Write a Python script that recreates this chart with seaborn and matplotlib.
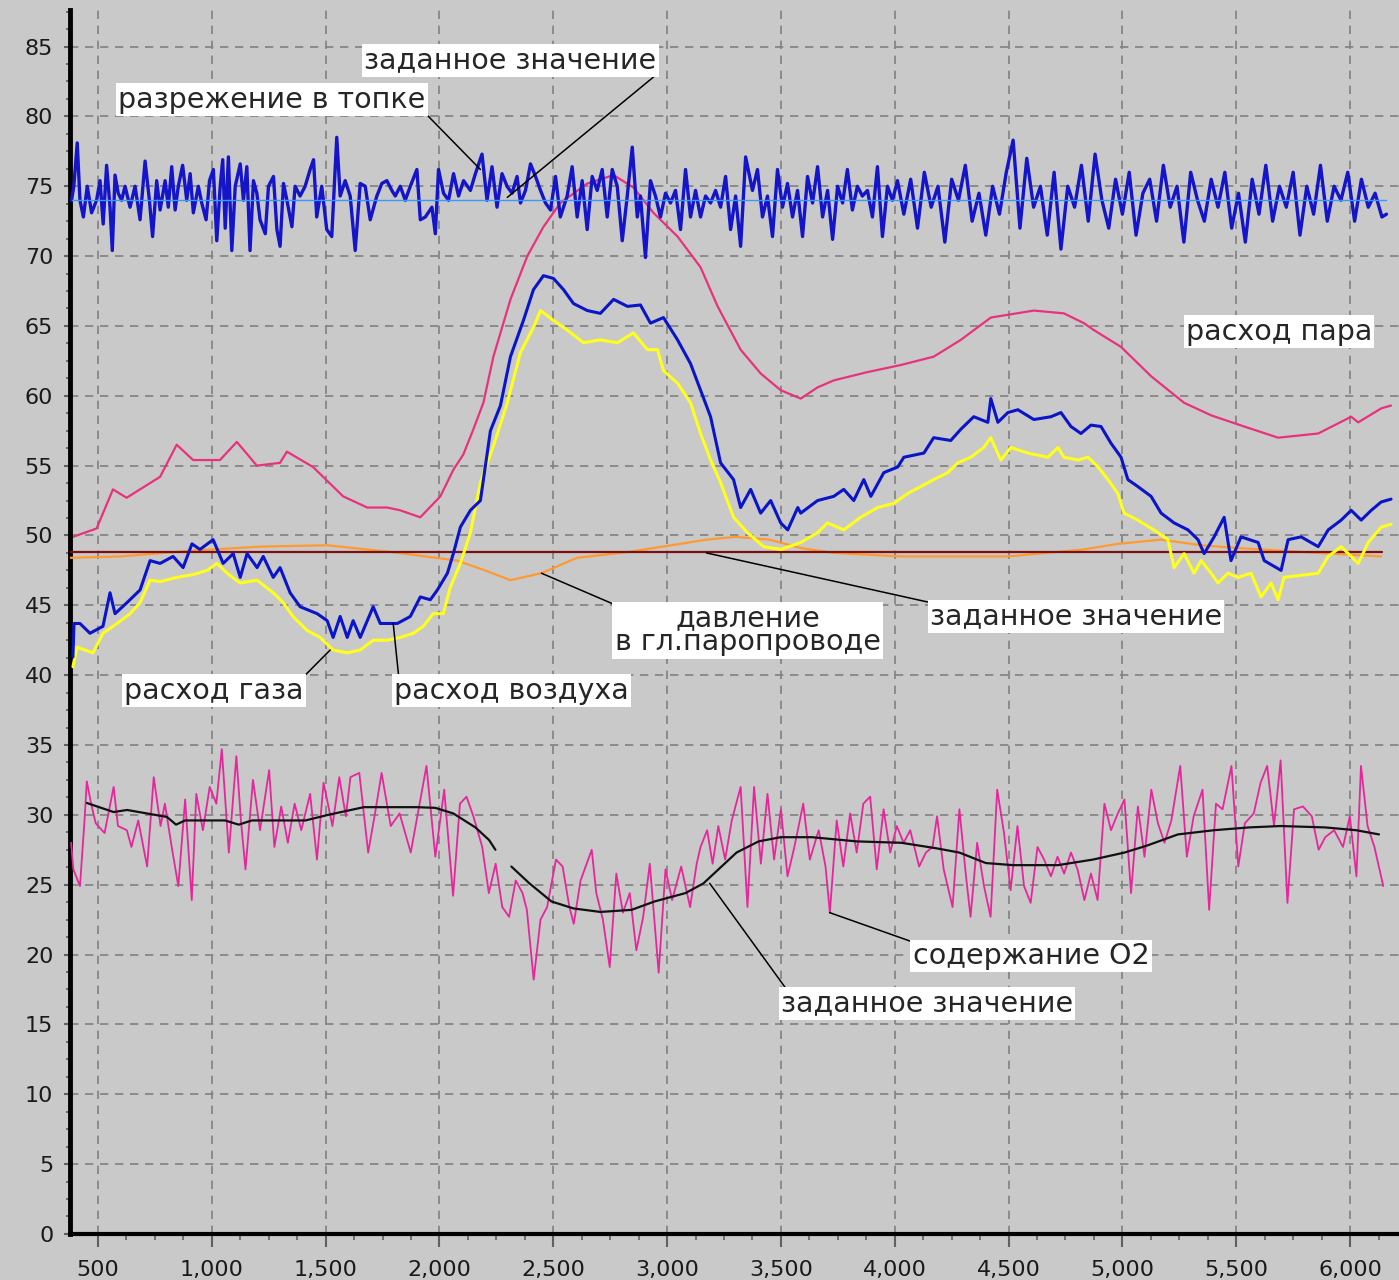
import matplotlib
matplotlib.use("Agg")
import matplotlib.pyplot as plt
import seaborn as sns
from matplotlib.ticker import AutoMinorLocator, FuncFormatter

# ══════════════════════════════════════════
#  DONNEES
# ══════════════════════════════════════════
# разрежение в топке (bleu, bruite)
TOP_X = [384, 394, 409, 421, 436, 453, 472, 494, 509, 523, 538, 553, 563, 575, 589,
         604, 619, 641, 663, 685, 707, 726, 740, 758, 773, 795, 809, 824, 839, 853,
         872, 890, 905, 919, 941, 956, 975, 990, 1007, 1022, 1037, 1048, 1059, 1073, 1088,
         1103, 1125, 1139, 1154, 1168, 1183, 1198, 1212, 1235, 1249, 1271, 1286, 1300, 1315, 1330,
         1352, 1366, 1388, 1410, 1432, 1447, 1461, 1483, 1505, 1527, 1549, 1564, 1586, 1608, 1630,
         1652, 1674, 1696, 1725, 1747, 1769, 1791, 1806, 1828, 1850, 1872, 1901, 1916, 1938, 1967,
         1982, 1996, 2018, 2040, 2062, 2084, 2106, 2136, 2158, 2187, 2209, 2231, 2253, 2275, 2297,
         2319, 2341, 2356, 2378, 2400, 2422, 2444, 2466, 2488, 2510, 2531, 2561, 2583, 2605, 2627,
         2649, 2671, 2693, 2715, 2737, 2759, 2781, 2803, 2825, 2847, 2869, 2883, 2905, 2927, 2949,
         2971, 2993, 3015, 3037, 3059, 3081, 3103, 3125, 3147, 3169, 3191, 3213, 3235, 3257, 3279,
         3301, 3323, 3345, 3375, 3397, 3419, 3441, 3463, 3485, 3507, 3529, 3551, 3573, 3595, 3617,
         3639, 3661, 3683, 3705, 3727, 3749, 3771, 3792, 3814, 3836, 3858, 3880, 3902, 3924, 3946,
         3968, 3990, 4012, 4040, 4070, 4100, 4130, 4160, 4190, 4220, 4250, 4280, 4310, 4340, 4370,
         4400, 4430, 4460, 4490, 4520, 4550, 4580, 4610, 4640, 4670, 4700, 4730, 4760, 4790, 4820,
         4850, 4880, 4910, 4940, 4970, 5000, 5030, 5060, 5090, 5120, 5150, 5180, 5210, 5240, 5270,
         5300, 5330, 5360, 5390, 5420, 5450, 5480, 5510, 5540, 5570, 5600, 5630, 5660, 5690, 5720,
         5750, 5780, 5810, 5840, 5870, 5900, 5930, 5960, 5990, 6020, 6050, 6080, 6110, 6140, 6160]
TOP_Y = [74.0, 75.0, 78.1, 74.0, 72.8, 75.0, 73.1, 74.0, 75.4, 72.3, 76.5, 73.5, 70.4, 75.8, 74.5,
         74.0, 75.0, 73.5, 75.0, 72.6, 76.8, 74.0, 71.4, 75.4, 73.3, 75.4, 73.5, 76.4, 73.3, 75.0,
         76.5, 74.0, 75.9, 73.1, 75.0, 73.8, 72.6, 75.4, 76.2, 71.1, 75.0, 76.9, 72.0, 77.1, 70.4,
         75.0, 76.6, 74.0, 76.4, 70.4, 75.4, 74.5, 72.6, 71.6, 75.0, 75.7, 71.9, 70.7, 75.2, 74.0,
         72.1, 75.0, 74.3, 75.0, 76.2, 76.9, 72.8, 75.0, 71.9, 71.4, 78.5, 74.3, 75.4, 74.3, 70.4,
         75.2, 75.0, 72.6, 74.3, 75.2, 75.4, 74.7, 74.3, 75.0, 74.0, 75.0, 76.2, 72.6, 72.8, 73.5,
         71.6, 76.2, 74.5, 74.0, 75.9, 74.3, 75.4, 74.7, 75.9, 77.3, 74.0, 76.4, 73.5, 75.9, 75.0,
         74.5, 75.7, 73.8, 74.7, 76.6, 75.7, 74.7, 73.8, 73.3, 75.7, 72.8, 74.3, 76.4, 72.8, 75.4,
         71.9, 75.7, 74.7, 76.2, 72.8, 76.2, 75.0, 71.1, 74.3, 77.8, 72.8, 74.3, 69.9, 75.4, 74.3,
         72.8, 74.5, 73.8, 74.7, 71.9, 76.2, 72.8, 74.7, 72.8, 74.3, 73.8, 74.7, 73.5, 75.7, 71.9,
         74.3, 70.7, 77.1, 74.7, 76.2, 72.8, 74.3, 71.4, 76.2, 73.5, 75.2, 72.8, 74.7, 71.4, 75.7,
         73.8, 76.4, 72.8, 74.7, 71.2, 75.0, 73.8, 76.2, 73.3, 75.0, 74.3, 74.7, 72.8, 76.4, 71.4,
         75.0, 74.0, 75.4, 73.0, 75.5, 72.0, 76.0, 73.5, 75.0, 71.0, 75.5, 74.0, 76.5, 72.5, 74.5,
         71.5, 75.0, 73.0, 76.0, 78.3, 72.0, 77.0, 73.5, 75.0, 71.5, 76.0, 70.5, 75.0, 73.5, 76.5,
         72.5, 77.3, 74.0, 72.0, 75.5, 73.0, 76.0, 71.5, 74.5, 75.5, 72.5, 76.5, 73.5, 75.0, 71.0,
         76.0, 74.0, 72.5, 75.5, 73.5, 76.0, 72.0, 74.5, 71.0, 75.5, 73.0, 76.5, 72.5, 75.0, 73.5,
         76.0, 71.5, 75.0, 73.0, 76.5, 72.5, 75.0, 74.0, 76.0, 72.5, 75.5, 73.5, 74.5, 72.8, 73.0]
TOP_SET = 74.0

# расход пара (rose)
STEAM_X = [390, 494, 566, 626, 773, 846, 918, 1036, 1110, 1198, 1300, 1330, 1445, 1577, 1683,
           1771, 1828, 1916, 2004, 2061, 2105, 2149, 2193, 2237, 2312, 2386, 2457, 2531, 2650, 2765,
           2853, 2940, 3046, 3147, 3222, 3323, 3411, 3499, 3587, 3661, 3732, 3881, 4026, 4171, 4290,
           4422, 4497, 4611, 4743, 4831, 4875, 4994, 5126, 5271, 5390, 5535, 5684, 5860, 6005, 6036,
           6137, 6180]
STEAM_Y = [49.9, 50.5, 53.3, 52.7, 54.2, 56.5, 55.4, 55.4, 56.7, 55.0, 55.2, 56.0, 54.9, 52.8, 52.0,
           52.0, 51.8, 51.3, 52.8, 54.7, 55.8, 57.6, 59.5, 62.8, 66.9, 70.0, 72.1, 73.8, 75.2, 75.8,
           74.9, 73.1, 71.4, 69.2, 66.4, 63.3, 61.6, 60.4, 59.8, 60.6, 61.1, 61.7, 62.2, 62.8, 64.0,
           65.6, 65.8, 66.1, 65.9, 65.2, 64.7, 63.5, 61.4, 59.5, 58.6, 57.8, 57.0, 57.3, 58.5, 58.1,
           59.1, 59.3]

# расход воздуха (bleu)
AIR_X = [390, 395, 421, 465, 522, 553, 575, 628, 685, 729, 773, 830, 874, 913, 948,
         1006, 1050, 1094, 1125, 1155, 1199, 1226, 1270, 1300, 1344, 1388, 1463, 1507, 1533, 1564,
         1595, 1621, 1652, 1709, 1740, 1815, 1872, 1916, 1960, 1991, 2035, 2061, 2092, 2136, 2180,
         2224, 2268, 2312, 2369, 2413, 2457, 2501, 2545, 2589, 2650, 2707, 2765, 2826, 2883, 2927,
         2984, 3046, 3103, 3147, 3191, 3235, 3292, 3323, 3367, 3411, 3455, 3499, 3530, 3574, 3587,
         3661, 3732, 3776, 3820, 3864, 3895, 3952, 4013, 4040, 4128, 4171, 4246, 4290, 4347, 4409,
         4422, 4453, 4497, 4541, 4611, 4686, 4730, 4774, 4818, 4862, 4906, 4950, 4994, 5024, 5068,
         5126, 5170, 5227, 5288, 5332, 5359, 5403, 5447, 5477, 5521, 5596, 5623, 5697, 5728, 5785,
         5860, 5904, 5961, 6005, 6049, 6093, 6137, 6180]
AIR_Y = [41.3, 43.7, 43.7, 43.0, 43.5, 45.9, 44.4, 45.2, 46.1, 48.2, 48.0, 48.5, 47.7, 49.4, 49.0,
         49.7, 48.0, 48.7, 47.0, 48.7, 47.7, 48.5, 47.0, 47.7, 45.9, 44.9, 44.4, 43.9, 42.7, 44.2,
         42.7, 43.9, 42.7, 44.9, 43.7, 43.7, 44.2, 45.6, 45.4, 46.1, 47.3, 48.7, 50.6, 51.8, 52.5,
         57.5, 59.3, 62.8, 65.4, 67.6, 68.6, 68.4, 67.6, 66.6, 66.1, 65.9, 66.9, 66.4, 66.5, 65.2,
         65.6, 64.0, 62.3, 60.4, 58.5, 55.2, 54.0, 52.0, 53.3, 51.6, 52.5, 50.9, 50.4, 52.0, 51.6,
         52.5, 52.8, 53.3, 52.5, 54.0, 52.8, 54.5, 54.9, 55.6, 55.9, 57.0, 56.8, 57.6, 58.5, 58.1,
         59.8, 58.1, 58.8, 59.0, 58.3, 58.5, 58.8, 57.8, 57.3, 57.9, 57.8, 56.6, 55.6, 54.0, 53.5,
         52.8, 51.6, 50.9, 50.4, 49.7, 48.7, 49.9, 51.3, 48.2, 49.9, 49.5, 48.2, 47.5, 49.7, 49.9,
         49.2, 50.4, 51.1, 51.8, 51.1, 51.8, 52.4, 52.6]

# расход газа (jaune)
GAS_X = [390, 408, 478, 522, 584, 641, 685, 729, 773, 847, 918, 979, 1023, 1067, 1124,
         1199, 1270, 1313, 1357, 1419, 1476, 1533, 1595, 1652, 1709, 1771, 1828, 1885, 1929, 1973,
         2017, 2048, 2092, 2136, 2180, 2237, 2298, 2356, 2413, 2444, 2501, 2562, 2633, 2707, 2782,
         2852, 2914, 2958, 2984, 3046, 3103, 3147, 3191, 3235, 3292, 3353, 3424, 3500, 3587, 3661,
         3705, 3776, 3850, 3925, 3996, 4056, 4114, 4171, 4233, 4277, 4334, 4391, 4422, 4466, 4510,
         4585, 4673, 4717, 4743, 4805, 4849, 4893, 4937, 4980, 5007, 5068, 5138, 5200, 5227, 5271,
         5315, 5346, 5390, 5420, 5464, 5508, 5565, 5609, 5653, 5684, 5710, 5860, 5904, 5961, 6036,
         6080, 6137, 6180]
GAS_Y = [40.6, 42.0, 41.6, 43.0, 43.7, 44.4, 45.2, 46.8, 46.7, 47.0, 47.2, 47.5, 48.0, 47.3, 46.6,
         46.8, 45.9, 45.2, 44.2, 43.2, 42.7, 41.8, 41.6, 41.8, 42.5, 42.5, 42.7, 43.0, 43.5, 44.4,
         44.4, 46.3, 48.0, 50.2, 53.8, 56.4, 59.5, 63.1, 64.9, 66.1, 65.4, 64.7, 63.8, 64.0, 63.8,
         64.5, 63.3, 63.3, 61.8, 60.9, 59.5, 57.3, 55.4, 53.8, 51.3, 50.2, 49.2, 49.0, 49.5, 50.2,
         50.9, 50.4, 51.3, 52.0, 52.3, 53.0, 53.5, 54.0, 54.5, 55.2, 55.6, 56.3, 57.0, 55.4, 56.3,
         55.9, 55.6, 56.3, 55.6, 55.4, 55.6, 54.9, 54.0, 53.0, 51.6, 51.1, 50.4, 49.7, 47.7, 48.7,
         47.3, 48.2, 47.3, 46.6, 47.3, 47.0, 47.3, 45.6, 46.6, 45.4, 47.0, 47.3, 48.5, 49.2, 48.0,
         49.5, 50.6, 50.8]

# давление в гл.паропроводе (orange) + заданное значение
PRESS_X = [377, 600, 900, 1212, 1507, 1797, 2078, 2200, 2312, 2448, 2604, 2822, 3019, 3173, 3300,
           3450, 3587, 3732, 4026, 4500, 4831, 4980, 5170, 5346, 5508, 5860, 6137]
PRESS_Y = [48.4, 48.5, 48.9, 49.2, 49.3, 48.8, 48.2, 47.5, 46.8, 47.3, 48.4, 48.8, 49.3, 49.7, 49.9,
           49.7, 49.1, 48.75, 48.5, 48.5, 49.0, 49.4, 49.7, 49.3, 49.1, 48.75, 48.5]
PRESS_SET = 48.8

# содержание O2 (rose, bruite)
O2_X = [382, 392, 421, 441, 451, 470, 490, 529, 569, 588, 627, 647, 677, 716, 745,
        775, 794, 824, 853, 883, 912, 932, 961, 991, 1020, 1044, 1075, 1108, 1128, 1148,
        1181, 1212, 1252, 1275, 1305, 1334, 1364, 1393, 1432, 1462, 1491, 1530, 1560, 1589, 1609,
        1648, 1687, 1717, 1746, 1786, 1825, 1874, 1903, 1943, 1982, 2021, 2060, 2090, 2119, 2149,
        2188, 2217, 2247, 2276, 2306, 2335, 2365, 2384, 2414, 2444, 2473, 2512, 2541, 2571, 2590,
        2620, 2669, 2689, 2718, 2748, 2777, 2806, 2836, 2865, 2895, 2924, 2963, 2993, 3022, 3062,
        3101, 3130, 3147, 3176, 3200, 3225, 3255, 3284, 3323, 3353, 3382, 3412, 3441, 3470, 3500,
        3529, 3559, 3598, 3627, 3666, 3696, 3715, 3745, 3774, 3804, 3833, 3862, 3892, 3921, 3951,
        3980, 4009, 4039, 4068, 4107, 4137, 4166, 4186, 4215, 4254, 4284, 4313, 4333, 4362, 4392,
        4421, 4450, 4480, 4509, 4539, 4568, 4597, 4627, 4656, 4686, 4715, 4744, 4774, 4803, 4833,
        4862, 4891, 4921, 4950, 4980, 5009, 5038, 5068, 5097, 5127, 5156, 5185, 5215, 5254, 5283,
        5313, 5352, 5381, 5411, 5440, 5479, 5509, 5538, 5577, 5607, 5636, 5666, 5695, 5725, 5754,
        5793, 5832, 5862, 5891, 5930, 5969, 5999, 6028, 6048, 6077, 6107, 6146]
O2_Y = [28.0, 26.1, 24.9, 29.6, 32.4, 30.8, 29.4, 28.7, 32.0, 29.2, 28.9, 27.7, 29.6, 26.3, 32.7,
        29.2, 30.8, 27.7, 24.9, 31.1, 23.9, 31.5, 28.9, 32.0, 30.8, 34.7, 27.3, 34.2, 29.6, 26.1,
        32.5, 28.9, 33.2, 27.7, 30.6, 28.0, 30.8, 28.9, 31.5, 26.8, 32.3, 29.2, 32.7, 29.9, 32.7,
        33.0, 27.3, 30.1, 33.0, 29.2, 30.1, 27.3, 29.9, 33.5, 27.0, 31.8, 24.2, 30.8, 31.3, 29.9,
        27.7, 24.4, 26.5, 23.4, 22.7, 25.3, 24.4, 23.2, 18.2, 22.5, 23.4, 26.8, 26.3, 23.4, 22.2,
        25.3, 27.5, 24.4, 22.5, 19.1, 25.8, 23.0, 24.4, 20.3, 22.7, 26.5, 18.7, 26.1, 23.9, 26.3,
        23.4, 26.5, 27.7, 28.9, 26.5, 29.2, 26.8, 29.6, 32.0, 23.4, 32.0, 26.5, 31.5, 26.8, 30.4,
        25.6, 27.7, 30.8, 26.8, 28.9, 26.3, 23.0, 29.6, 26.3, 30.1, 27.3, 30.8, 31.3, 26.1, 30.4,
        27.3, 29.2, 28.0, 28.9, 26.3, 27.3, 27.7, 29.9, 26.1, 23.4, 30.4, 25.6, 22.7, 28.0, 24.9,
        22.7, 31.8, 28.7, 24.6, 29.2, 24.9, 23.7, 27.7, 26.8, 25.6, 27.0, 25.8, 27.3, 26.1, 23.9,
        25.8, 23.9, 30.8, 28.9, 30.1, 31.1, 24.4, 30.6, 27.0, 31.8, 29.4, 28.0, 29.6, 33.5, 27.0,
        29.9, 31.8, 23.2, 30.8, 30.4, 33.5, 26.3, 29.4, 30.1, 32.3, 33.5, 29.2, 33.9, 23.7, 30.4,
        30.6, 29.9, 27.5, 28.4, 28.9, 27.7, 29.9, 25.6, 33.5, 29.2, 27.7, 24.9]

# заданное значение O2 (noir, deux morceaux)
O2SET1_X = [451, 569, 628, 803, 843, 883, 1058, 1118, 1177, 1412, 1511, 1668, 1903, 1982, 2061,
            2158, 2218, 2246]
O2SET1_Y = [30.85, 30.2, 30.35, 29.85, 29.3, 29.6, 29.6, 29.3, 29.6, 29.6, 30.0, 30.55, 30.55, 30.5, 30.1,
            29.1, 28.2, 27.5]
O2SET2_X = [2316, 2395, 2492, 2589, 2707, 2844, 2945, 3081, 3160, 3239, 3305, 3402, 3499, 3637, 3833,
            4029, 4185, 4284, 4400, 4519, 4717, 4871, 5009, 5108, 5244, 5402, 5556, 5695, 5891, 6027,
            6127]
O2SET2_Y = [26.3, 25.1, 23.8, 23.3, 23.05, 23.2, 23.8, 24.4, 25.1, 26.3, 27.3, 28.1, 28.4, 28.4, 28.1,
            28.0, 27.6, 27.3, 26.55, 26.4, 26.4, 26.8, 27.3, 27.8, 28.6, 28.9, 29.1, 29.2, 29.1, 28.9,
            28.6]

X_TICKS = [500, 1000, 1500, 2000, 2500, 3000, 3500, 4000, 4500, 5000, 5500, 6000]
Y_TICKS = list(range(0, 90, 5))

# ══════════════════════════════════════════
#  STYLE
# ══════════════════════════════════════════
sns.set_theme(style="ticks")
plt.rcParams["font.family"] = ["DejaVu Sans"]

BG = "#C9C9C9"
COLORS = {
    "top"    : "#1414C8",
    "topset" : "#3C96FF",
    "steam"  : "#E8327C",
    "air"    : "#0A14C8",
    "gas"    : "#FFFF1E",
    "press"  : "#FF9A30",
    "pset"   : "#7A1010",
    "o2"     : "#E6269C",
    "o2set"  : "#111111",
}

fig = plt.figure(figsize=(13.99, 12.80), dpi=100, facecolor=BG)
ax = fig.add_axes([0.050, 0.036, 0.950, 0.956])
ax.set_facecolor(BG)


def trace(x, y, color, lw, z=2):
    sns.lineplot(x=x, y=y, ax=ax, color=color, lw=lw, sort=False,
                 estimator=None, zorder=z)


trace(STEAM_X, STEAM_Y, COLORS["steam"], 1.6, z=2)
trace(TOP_X, TOP_Y, COLORS["top"], 2.4, z=3)
trace([TOP_X[0], TOP_X[-1]], [TOP_SET, TOP_SET], COLORS["topset"], 1.0, z=4)
trace(PRESS_X, PRESS_Y, COLORS["press"], 1.6, z=3)
trace([PRESS_X[0], 6140], [PRESS_SET, PRESS_SET], COLORS["pset"], 1.6, z=4)
trace(GAS_X, GAS_Y, COLORS["gas"], 2.2, z=5)
trace(AIR_X, AIR_Y, COLORS["air"], 2.2, z=6)
trace(O2_X, O2_Y, COLORS["o2"], 1.3, z=3)
trace(O2SET1_X, O2SET1_Y, COLORS["o2set"], 1.6, z=4)
trace(O2SET2_X, O2SET2_Y, COLORS["o2set"], 1.6, z=4)

# ══════════════════════════════════════════
#  AXES
# ══════════════════════════════════════════
ax.set_xlim(377, 6215)
ax.set_ylim(0, 87.6)
ax.set_xticks(X_TICKS)
ax.set_yticks(Y_TICKS)
ax.xaxis.set_major_formatter(FuncFormatter(lambda v, p: f"{v:,.0f}"))
ax.xaxis.set_minor_locator(AutoMinorLocator(4))
ax.yaxis.set_minor_locator(AutoMinorLocator(4))
ax.set_xlabel("")
ax.set_ylabel("")

ax.grid(True, which="major", color="#808080", linestyle=(0, (5, 4)), lw=1.2)
ax.set_axisbelow(True)

for s in ["top", "right"]:
    ax.spines[s].set_visible(False)
ax.spines["left"].set_linewidth(3.5)
ax.spines["bottom"].set_linewidth(3.0)
ax.spines["left"].set_color("black")
ax.spines["bottom"].set_color("black")

ax.tick_params(axis="x", which="major", direction="out", length=9, width=1.5,
               color="#606060", labelsize=16, labelcolor="#1a1a1a", pad=10)
ax.tick_params(axis="x", which="minor", direction="out", length=4, width=1.2, color="#606060")
ax.tick_params(axis="y", which="major", direction="out", length=4, width=1.5,
               color="#606060", labelsize=16, labelcolor="#1a1a1a", pad=8)
ax.tick_params(axis="y", which="minor", direction="out", length=3, width=1.2, color="#606060")

# ══════════════════════════════════════════
#  ETIQUETTES
# ══════════════════════════════════════════
BOX = dict(boxstyle="square,pad=0.08", fc="white", ec="none")
LEAD = dict(arrowstyle="-", color="black", lw=1.1, shrinkA=0, shrinkB=0)
FS = 20.5

ax.annotate("заданное значение", xy=(2298, 74.2), xytext=(2312, 84.0),
            ha="center", va="center", fontsize=FS, bbox=BOX, zorder=10,
            arrowprops=dict(LEAD, relpos=(1, 0)))
ax.annotate("разрежение в топке", xy=(2180, 76.2), xytext=(1265, 81.2),
            ha="center", va="center", fontsize=FS, bbox=BOX, zorder=10,
            arrowprops=dict(LEAD, relpos=(1, 0)))
ax.text(5688, 64.6, "расход пара", ha="center", va="center", fontsize=FS,
        bbox=BOX, zorder=10)
ax.annotate("давление\nв гл.паропроводе", xy=(2448, 47.3), xytext=(3354, 43.2),
            ha="center", va="center", fontsize=FS, bbox=BOX, zorder=10,
            linespacing=0.8, arrowprops=dict(LEAD, relpos=(0, 1)))
ax.annotate("заданное значение", xy=(3173, 48.75), xytext=(4796, 44.2),
            ha="center", va="center", fontsize=FS, bbox=BOX, zorder=10,
            arrowprops=dict(LEAD, relpos=(0, 1)))
ax.annotate("расход газа", xy=(1520, 41.8), xytext=(1010, 38.9),
            ha="center", va="center", fontsize=FS, bbox=BOX, zorder=10,
            arrowprops=dict(LEAD, relpos=(1, 1)))
ax.annotate("расход воздуха", xy=(1797, 43.7), xytext=(2316, 38.9),
            ha="center", va="center", fontsize=FS, bbox=BOX, zorder=10,
            arrowprops=dict(LEAD, relpos=(0.02, 1)))
ax.annotate("содержание O2", xy=(3714, 23.0), xytext=(4598, 19.9),
            ha="center", va="center", fontsize=FS, bbox=BOX, zorder=10,
            arrowprops=dict(LEAD, relpos=(0, 1)))
ax.annotate("заданное значение", xy=(3187, 25.1), xytext=(4141, 16.5),
            ha="center", va="center", fontsize=FS, bbox=BOX, zorder=10,
            arrowprops=dict(LEAD, relpos=(0.02, 1)))

fig.savefig("out.png", dpi=100, facecolor=BG)
plt.close(fig)
